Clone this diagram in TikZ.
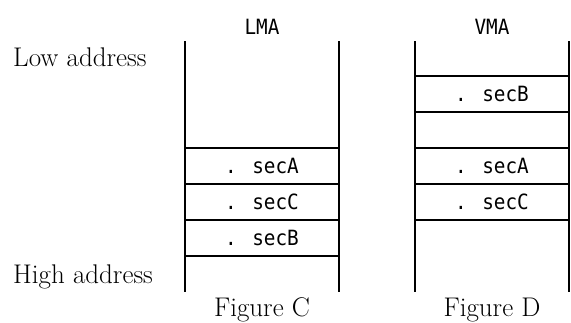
\documentclass[tikz,border=0pt]{standalone}
\usepackage{fontspec}
\newfontfamily\gothic[FakeStretch=0.92]{DejaVu Sans Mono}
\usetikzlibrary{positioning}

\begin{document}
\begin{tikzpicture}[x=1pt,y=-1pt,
  sec/.style={draw,line width=1.6pt,minimum width=154pt,minimum height=36pt,
    inner sep=0pt,font=\gothic\fontsize{21}{24}\selectfont},
  memtitle/.style={font=\gothic\fontsize{21}{24}\selectfont,inner sep=0pt},
  addr/.style={font=\fontsize{27}{30}\selectfont,anchor=base west,inner sep=0pt},
  fig/.style={font=\fontsize{27}{30}\selectfont,anchor=base,inner sep=0pt},
  wall/.style={line width=1.6pt}]
\useasboundingbox (0,0) rectangle (571,322);
% side labels
\node[addr] (low) at (13,66) {Low address};
\node[addr] (high) at (13,283) {High address};
% LMA column
\node[memtitle] (lma) at (262,27) {LMA};
\coordinate (lmatop) at (185,41);
\coordinate (lmabot) at (185,292);
\coordinate (lmatopr) at (339,41);
\coordinate (lmabotr) at (339,292);
\draw[wall] (lmatop) -- (lmabot);
\draw[wall] (lmatopr) -- (lmabotr);
\node[sec] (lA) at (262,166) {. secA};
\node[sec] (lC) at (262,202) {. secC};
\node[sec] (lB) at (262,238) {. secB};
\node[fig] (figc) at (262,316) {Figure C};
% VMA column
\node[memtitle] (vma) at (492,27) {VMA};
\coordinate (vmatop) at (415,41);
\coordinate (vmabot) at (415,292);
\coordinate (vmatopr) at (569,41);
\coordinate (vmabotr) at (569,292);
\draw[wall] (vmatop) -- (vmabot);
\draw[wall] (vmatopr) -- (vmabotr);
\node[sec] (vB) at (492,94) {. secB};
\node[sec] (vA) at (492,166) {. secA};
\node[sec] (vC) at (492,202) {. secC};
\node[fig] (figd) at (492,316) {Figure D};
\end{tikzpicture}
\end{document}
